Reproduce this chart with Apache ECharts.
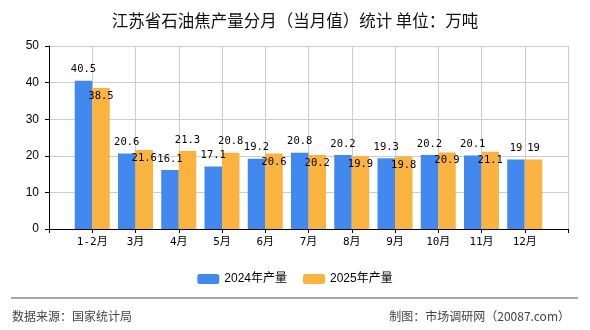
<!DOCTYPE html>
<html>
<head>
<meta charset="utf-8">
<script src="https://cdn.jsdelivr.net/npm/echarts@6/dist/echarts.min.js"></script>
<style>html,body{margin:0;padding:0;background:#fff}#c{width:590px;height:330px}</style>
</head>
<body>
<div id="c"></div>
<script>
var categories = ['1-2月','3月','4月','5月','6月','7月','8月','9月','10月','11月','12月'];
var values2024 = [40.5, 20.6, 16.1, 17.1, 19.2, 20.8, 20.2, 19.3, 20.2, 20.1, 19];
var values2025 = [38.5, 21.6, 21.3, 20.8, 20.6, 20.2, 19.9, 19.8, 20.9, 21.1, 19];
var seriesNames = ['2024年产量', '2025年产量'];
var yTicks = [0, 10, 20, 30, 40, 50];

var cats = [''].concat(categories, ['']);
var monoFont = "'DejaVu Sans Mono','Noto Sans CJK SC',monospace";
function pad(arr){ return [null].concat(arr, [null]); }
var d2024 = pad(values2024);
var d2025 = pad(values2025).map(function(v, i){
  if (v === null) return null;
  var other = d2024[i];
  var diff = Math.abs(v - other);
  var below = diff > 0 && diff <= 2.001;
  return { value: v, label: below ? { position: 'insideTop', distance: 3 } : { position: 'top', distance: 6 } };
});

var chart = echarts.init(document.getElementById('c'), null, {renderer: 'canvas'});
chart.setOption({
  animation: false,
  title: {
    text: '江苏省石油焦产量分月（当月值）统计 单位：万吨',
    left: 'center', top: 7,
    textStyle: { fontFamily: "'Noto Sans CJK SC',sans-serif", fontSize: 16.5, fontWeight: 'normal', color: '#111' }
  },
  legend: {
    top: 268, left: 'center',
    itemWidth: 22, itemHeight: 10, itemGap: 16,
    textStyle: { fontFamily: "'Liberation Sans','Noto Sans CJK SC',sans-serif", fontSize: 12, color: '#000' },
    data: seriesNames
  },
  grid: { left: 49, right: 22, top: 46, bottom: 101, containLabel: false },
  xAxis: {
    type: 'category', data: cats, boundaryGap: false,
    axisLine: { lineStyle: { color: '#000', width: 1 } },
    axisTick: { show: true, length: 4, lineStyle: { color: '#000' } },
    axisLabel: { interval: 0, margin: 8, fontFamily: monoFont, fontSize: 11, color: '#000' },
    splitLine: { show: true, lineStyle: { color: '#ccc', width: 1 } }
  },
  yAxis: {
    type: 'value', min: yTicks[0], max: yTicks[yTicks.length-1], interval: 10,
    axisLine: { show: true, lineStyle: { color: '#000', width: 1 } },
    axisTick: { show: true, length: 4, lineStyle: { color: '#000' } },
    axisLabel: { margin: 10, fontFamily: "'Liberation Sans',sans-serif", fontSize: 12, color: '#000' },
    splitLine: { show: true, lineStyle: { color: '#ccc', width: 1 } }
  },
  series: [
    {
      name: seriesNames[0], type: 'bar', data: d2024, barWidth: 17.5, barGap: '0%',
      itemStyle: { color: '#4189EE' },
      label: { show: true, position: 'top', distance: 6, fontFamily: monoFont, fontSize: 10.5, color: '#000' }
    },
    {
      name: seriesNames[1], type: 'bar', data: d2025, barWidth: 17.5, barGap: '0%',
      itemStyle: { color: '#FBB340' },
      label: { show: true, fontFamily: monoFont, fontSize: 10.5, color: '#000' }
    }
  ],
  graphic: [
    { type: 'line', shape: { x1: 11, y1: 298, x2: 578, y2: 298 }, style: { stroke: '#888', lineWidth: 1.5 }, silent: true },
    { type: 'text', left: 12, top: 310, style: { text: '数据来源：国家统计局', font: "12px 'Noto Sans CJK SC',sans-serif", fill: '#444' } },
    { type: 'text', right: 20, top: 310, style: { text: '制图：市场调研网（20087.com）', font: "12px 'Noto Sans CJK SC',sans-serif", fill: '#444' } }
  ]
});
</script>
</body>
</html>
